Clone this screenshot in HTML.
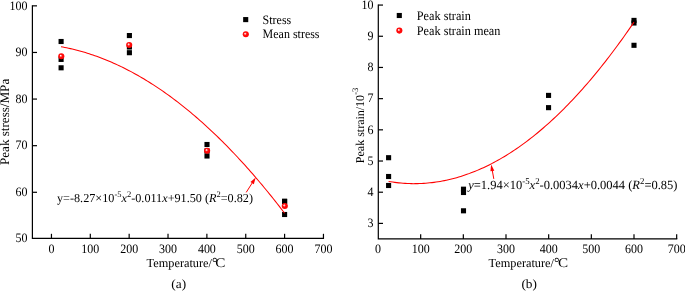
<!DOCTYPE html>
<html><head><meta charset="utf-8"><style>html,body{margin:0;padding:0;background:#fff;overflow:hidden}svg{display:block;will-change:transform;text-rendering:geometricPrecision}</style></head>
<body><svg width="685" height="291" viewBox="0 0 685 291">
<defs><radialGradient id="rb" cx="0.5" cy="0.5" r="0.55" fx="0.37" fy="0.36">
<stop offset="0" stop-color="#ffffff"/><stop offset="0.18" stop-color="#ffb8b8"/><stop offset="0.42" stop-color="#ff1010"/><stop offset="1" stop-color="#ff0000"/></radialGradient></defs>
<rect width="685" height="291" fill="#fff"/>
<path d="M32.4 5.85 V238.45 H323.45" fill="none" stroke="#000" stroke-width="1.2" stroke-linecap="square"/>
<line x1="32.4" y1="192.29" x2="37.0" y2="192.29" stroke="#000" stroke-width="1.2"/>
<line x1="32.4" y1="145.68" x2="37.0" y2="145.68" stroke="#000" stroke-width="1.2"/>
<line x1="32.4" y1="99.07" x2="37.0" y2="99.07" stroke="#000" stroke-width="1.2"/>
<line x1="32.4" y1="52.46" x2="37.0" y2="52.46" stroke="#000" stroke-width="1.2"/>
<line x1="32.4" y1="5.85" x2="37.0" y2="5.85" stroke="#000" stroke-width="1.2"/>
<text transform="translate(27.40 242.15) scale(0.9346 1)" text-anchor="end" font-family="Liberation Serif" font-size="12.840">50</text>
<text transform="translate(27.40 195.99) scale(0.9346 1)" text-anchor="end" font-family="Liberation Serif" font-size="12.840">60</text>
<text transform="translate(27.40 149.38) scale(0.9346 1)" text-anchor="end" font-family="Liberation Serif" font-size="12.840">70</text>
<text transform="translate(27.40 102.77) scale(0.9346 1)" text-anchor="end" font-family="Liberation Serif" font-size="12.840">80</text>
<text transform="translate(27.40 56.16) scale(0.9346 1)" text-anchor="end" font-family="Liberation Serif" font-size="12.840">90</text>
<text transform="translate(27.40 9.55) scale(0.9346 1)" text-anchor="end" font-family="Liberation Serif" font-size="12.840">100</text>
<line x1="51.45" y1="238.45" x2="51.45" y2="233.8" stroke="#000" stroke-width="1.2"/>
<text transform="translate(51.45 253.40) scale(0.9346 1)" text-anchor="middle" font-family="Liberation Serif" font-size="12.840">0</text>
<line x1="90.31" y1="238.45" x2="90.31" y2="233.8" stroke="#000" stroke-width="1.2"/>
<text transform="translate(90.31 253.40) scale(0.9346 1)" text-anchor="middle" font-family="Liberation Serif" font-size="12.840">100</text>
<line x1="129.16" y1="238.45" x2="129.16" y2="233.8" stroke="#000" stroke-width="1.2"/>
<text transform="translate(129.16 253.40) scale(0.9346 1)" text-anchor="middle" font-family="Liberation Serif" font-size="12.840">200</text>
<line x1="168.02" y1="238.45" x2="168.02" y2="233.8" stroke="#000" stroke-width="1.2"/>
<text transform="translate(168.02 253.40) scale(0.9346 1)" text-anchor="middle" font-family="Liberation Serif" font-size="12.840">300</text>
<line x1="206.88" y1="238.45" x2="206.88" y2="233.8" stroke="#000" stroke-width="1.2"/>
<text transform="translate(206.88 253.40) scale(0.9346 1)" text-anchor="middle" font-family="Liberation Serif" font-size="12.840">400</text>
<line x1="245.74" y1="238.45" x2="245.74" y2="233.8" stroke="#000" stroke-width="1.2"/>
<text transform="translate(245.74 253.40) scale(0.9346 1)" text-anchor="middle" font-family="Liberation Serif" font-size="12.840">500</text>
<line x1="284.59" y1="238.45" x2="284.59" y2="233.8" stroke="#000" stroke-width="1.2"/>
<text transform="translate(284.59 253.40) scale(0.9346 1)" text-anchor="middle" font-family="Liberation Serif" font-size="12.840">600</text>
<line x1="323.45" y1="238.45" x2="323.45" y2="233.8" stroke="#000" stroke-width="1.2"/>
<text transform="translate(323.45 253.40) scale(0.9346 1)" text-anchor="middle" font-family="Liberation Serif" font-size="12.840">700</text>
<text transform="translate(146.60 266.80) scale(1.0000 1)" font-family="Liberation Serif" font-size="12.300">Temperature/</text>
<text transform="translate(211.90 266.80) scale(1.0000 1)" font-family="Liberation Serif" font-size="13.800">°</text>
<text transform="translate(215.20 266.80) scale(1.1521 1)" font-family="Liberation Serif" font-size="13.194">C</text>
<text transform="translate(171.30 287.70) scale(1.0638 1)" font-family="Liberation Serif" font-size="12.502">(a)</text>
<text transform="translate(9.4 165.0) rotate(-90)" font-family="Liberation Serif" font-size="13.1">Peak stress/MPa</text>
<rect x="58.55" y="38.95" width="5.1" height="5.1" fill="#000"/>
<rect x="58.55" y="56.85" width="5.1" height="5.1" fill="#000"/>
<rect x="58.55" y="65.25" width="5.1" height="5.1" fill="#000"/>
<rect x="126.85" y="33.00" width="5.1" height="5.1" fill="#000"/>
<rect x="126.85" y="44.45" width="5.1" height="5.1" fill="#000"/>
<rect x="126.85" y="50.15" width="5.1" height="5.1" fill="#000"/>
<rect x="204.45" y="141.95" width="5.1" height="5.1" fill="#000"/>
<rect x="204.45" y="148.35" width="5.1" height="5.1" fill="#000"/>
<rect x="204.45" y="153.45" width="5.1" height="5.1" fill="#000"/>
<rect x="282.05" y="198.75" width="5.1" height="5.1" fill="#000"/>
<rect x="282.05" y="198.85" width="5.1" height="5.1" fill="#000"/>
<rect x="282.05" y="211.95" width="5.1" height="5.1" fill="#000"/>
<polyline points="61.00,46.72 62.88,47.07 64.76,47.43 66.64,47.81 68.52,48.21 70.39,48.63 72.27,49.06 74.15,49.52 76.03,49.99 77.91,50.48 79.79,50.98 81.67,51.51 83.55,52.05 85.43,52.61 87.31,53.19 89.18,53.78 91.06,54.39 92.94,55.03 94.82,55.68 96.70,56.34 98.58,57.03 100.46,57.73 102.34,58.45 104.22,59.19 106.10,59.95 107.97,60.72 109.85,61.51 111.73,62.32 113.61,63.15 115.49,64.00 117.37,64.86 119.25,65.74 121.13,66.64 123.01,67.56 124.89,68.49 126.76,69.44 128.64,70.41 130.52,71.40 132.40,72.41 134.28,73.43 136.16,74.48 138.04,75.54 139.92,76.61 141.80,77.71 143.68,78.82 145.55,79.95 147.43,81.10 149.31,82.27 151.19,83.45 153.07,84.66 154.95,85.88 156.83,87.12 158.71,88.37 160.59,89.65 162.47,90.94 164.34,92.25 166.22,93.58 168.10,94.92 169.98,96.28 171.86,97.67 173.74,99.07 175.62,100.48 177.50,101.92 179.38,103.37 181.26,104.84 183.13,106.33 185.01,107.83 186.89,109.36 188.77,110.90 190.65,112.46 192.53,114.04 194.41,115.63 196.29,117.25 198.17,118.88 200.05,120.53 201.92,122.19 203.80,123.88 205.68,125.58 207.56,127.30 209.44,129.04 211.32,130.80 213.20,132.57 215.08,134.36 216.96,136.17 218.84,138.00 220.71,139.85 222.59,141.71 224.47,143.59 226.35,145.49 228.23,147.41 230.11,149.34 231.99,151.29 233.87,153.26 235.75,155.25 237.63,157.26 239.50,159.28 241.38,161.32 243.26,163.38 245.14,165.46 247.02,167.56 248.90,169.67 250.78,171.80 252.66,173.95 254.54,176.12 256.42,178.30 258.29,180.50 260.17,182.72 262.05,184.96 263.93,187.22 265.81,189.49 267.69,191.78 269.57,194.09 271.45,196.42 273.33,198.77 275.21,201.13 277.08,203.51 278.96,205.91 280.84,208.33 282.72,210.76 284.60,213.21" fill="none" stroke="#f00" stroke-width="1.05"/>
<circle cx="61.30" cy="56.30" r="3.05" fill="url(#rb)"/>
<circle cx="129.20" cy="45.00" r="3.05" fill="url(#rb)"/>
<circle cx="207.10" cy="150.70" r="3.05" fill="url(#rb)"/>
<circle cx="284.80" cy="206.00" r="3.05" fill="url(#rb)"/>
<rect x="243.15" y="17.05" width="5.1" height="5.1" fill="#000"/>
<circle cx="245.80" cy="34.30" r="3.05" fill="url(#rb)"/>
<text transform="translate(262.60 23.50) scale(0.9346 1)" font-family="Liberation Serif" font-size="12.840">Stress</text>
<text transform="translate(262.60 38.00) scale(0.9346 1)" font-family="Liberation Serif" font-size="12.840">Mean stress</text>
<line x1="246.2" y1="192.4" x2="252.69" y2="182.22" stroke="#f00" stroke-width="1"/>
<path d="M255.7 177.5 L253.84 184.14 L250.47 181.99 Z" fill="#f00"/>
<text x="57.0" y="201.9" font-family="Liberation Serif" font-size="12.2">y=-8.27×10<tspan dy="-4.5" font-size="8.5">-5</tspan><tspan dy="4.5" font-style="italic">x</tspan><tspan dy="-4.5" font-size="8.5">2</tspan><tspan dy="4.5">-0.011</tspan><tspan font-style="italic">x</tspan>+91.50 (<tspan font-style="italic">R</tspan><tspan dy="-4.5" font-size="8.5">2</tspan><tspan dy="4.5">=0.82)</tspan></text>
<path d="M378.3 5.07 V238.9 H676.67" fill="none" stroke="#000" stroke-width="1.2" stroke-linecap="square"/>
<line x1="378.3" y1="223.40" x2="383.0" y2="223.40" stroke="#000" stroke-width="1.2"/>
<text transform="translate(373.40 227.10) scale(0.9346 1)" text-anchor="end" font-family="Liberation Serif" font-size="12.840">3</text>
<line x1="378.3" y1="192.21" x2="383.0" y2="192.21" stroke="#000" stroke-width="1.2"/>
<text transform="translate(373.40 195.91) scale(0.9346 1)" text-anchor="end" font-family="Liberation Serif" font-size="12.840">4</text>
<line x1="378.3" y1="161.02" x2="383.0" y2="161.02" stroke="#000" stroke-width="1.2"/>
<text transform="translate(373.40 164.72) scale(0.9346 1)" text-anchor="end" font-family="Liberation Serif" font-size="12.840">5</text>
<line x1="378.3" y1="129.83" x2="383.0" y2="129.83" stroke="#000" stroke-width="1.2"/>
<text transform="translate(373.40 133.53) scale(0.9346 1)" text-anchor="end" font-family="Liberation Serif" font-size="12.840">6</text>
<line x1="378.3" y1="98.64" x2="383.0" y2="98.64" stroke="#000" stroke-width="1.2"/>
<text transform="translate(373.40 102.34) scale(0.9346 1)" text-anchor="end" font-family="Liberation Serif" font-size="12.840">7</text>
<line x1="378.3" y1="67.45" x2="383.0" y2="67.45" stroke="#000" stroke-width="1.2"/>
<text transform="translate(373.40 71.15) scale(0.9346 1)" text-anchor="end" font-family="Liberation Serif" font-size="12.840">8</text>
<line x1="378.3" y1="36.26" x2="383.0" y2="36.26" stroke="#000" stroke-width="1.2"/>
<text transform="translate(373.40 39.96) scale(0.9346 1)" text-anchor="end" font-family="Liberation Serif" font-size="12.840">9</text>
<line x1="378.3" y1="5.07" x2="383.0" y2="5.07" stroke="#000" stroke-width="1.2"/>
<text transform="translate(373.40 8.77) scale(0.9346 1)" text-anchor="end" font-family="Liberation Serif" font-size="12.840">10</text>
<text transform="translate(378.00 253.40) scale(0.9346 1)" text-anchor="middle" font-family="Liberation Serif" font-size="12.840">0</text>
<line x1="420.67" y1="238.9" x2="420.67" y2="234.3" stroke="#000" stroke-width="1.2"/>
<text transform="translate(420.67 253.40) scale(0.9346 1)" text-anchor="middle" font-family="Liberation Serif" font-size="12.840">100</text>
<line x1="463.33" y1="238.9" x2="463.33" y2="234.3" stroke="#000" stroke-width="1.2"/>
<text transform="translate(463.33 253.40) scale(0.9346 1)" text-anchor="middle" font-family="Liberation Serif" font-size="12.840">200</text>
<line x1="506.00" y1="238.9" x2="506.00" y2="234.3" stroke="#000" stroke-width="1.2"/>
<text transform="translate(506.00 253.40) scale(0.9346 1)" text-anchor="middle" font-family="Liberation Serif" font-size="12.840">300</text>
<line x1="548.67" y1="238.9" x2="548.67" y2="234.3" stroke="#000" stroke-width="1.2"/>
<text transform="translate(548.67 253.40) scale(0.9346 1)" text-anchor="middle" font-family="Liberation Serif" font-size="12.840">400</text>
<line x1="591.34" y1="238.9" x2="591.34" y2="234.3" stroke="#000" stroke-width="1.2"/>
<text transform="translate(591.34 253.40) scale(0.9346 1)" text-anchor="middle" font-family="Liberation Serif" font-size="12.840">500</text>
<line x1="634.00" y1="238.9" x2="634.00" y2="234.3" stroke="#000" stroke-width="1.2"/>
<text transform="translate(634.00 253.40) scale(0.9346 1)" text-anchor="middle" font-family="Liberation Serif" font-size="12.840">600</text>
<line x1="676.67" y1="238.9" x2="676.67" y2="234.3" stroke="#000" stroke-width="1.2"/>
<text transform="translate(676.67 253.40) scale(0.9346 1)" text-anchor="middle" font-family="Liberation Serif" font-size="12.840">700</text>
<text transform="translate(488.60 266.80) scale(1.0000 1)" font-family="Liberation Serif" font-size="12.300">Temperature/</text>
<text transform="translate(553.90 266.80) scale(1.0000 1)" font-family="Liberation Serif" font-size="13.800">°</text>
<text transform="translate(558.10 266.80) scale(1.1521 1)" font-family="Liberation Serif" font-size="13.194">C</text>
<text transform="translate(521.40 287.70) scale(1.0638 1)" font-family="Liberation Serif" font-size="12.502">(b)</text>
<text transform="translate(363.6 163.2) rotate(-90)" font-family="Liberation Serif" font-size="12">Peak strain/10<tspan dy="-5.3" font-size="8.5">-3</tspan></text>
<rect x="386.05" y="155.15" width="5.1" height="5.1" fill="#000"/>
<rect x="386.05" y="173.95" width="5.1" height="5.1" fill="#000"/>
<rect x="386.05" y="182.95" width="5.1" height="5.1" fill="#000"/>
<rect x="460.95" y="186.65" width="5.1" height="5.1" fill="#000"/>
<rect x="460.95" y="189.95" width="5.1" height="5.1" fill="#000"/>
<rect x="460.95" y="208.25" width="5.1" height="5.1" fill="#000"/>
<rect x="546.00" y="92.85" width="5.1" height="5.1" fill="#000"/>
<rect x="546.00" y="105.10" width="5.1" height="5.1" fill="#000"/>
<rect x="631.45" y="17.85" width="5.1" height="5.1" fill="#000"/>
<rect x="631.45" y="20.45" width="5.1" height="5.1" fill="#000"/>
<rect x="631.45" y="42.75" width="5.1" height="5.1" fill="#000"/>
<polyline points="388.60,181.44 390.66,181.78 392.72,182.09 394.79,182.37 396.85,182.63 398.91,182.86 400.97,183.05 403.04,183.22 405.10,183.37 407.16,183.48 409.22,183.56 411.28,183.62 413.35,183.65 415.41,183.64 417.47,183.62 419.53,183.56 421.59,183.47 423.66,183.36 425.72,183.21 427.78,183.04 429.84,182.84 431.91,182.61 433.97,182.36 436.03,182.07 438.09,181.76 440.15,181.41 442.22,181.04 444.28,180.64 446.34,180.21 448.40,179.76 450.47,179.27 452.53,178.76 454.59,178.22 456.65,177.65 458.71,177.05 460.78,176.42 462.84,175.77 464.90,175.08 466.96,174.37 469.03,173.63 471.09,172.86 473.15,172.06 475.21,171.24 477.27,170.38 479.34,169.50 481.40,168.59 483.46,167.65 485.52,166.68 487.58,165.68 489.65,164.66 491.71,163.60 493.77,162.52 495.83,161.41 497.90,160.27 499.96,159.10 502.02,157.91 504.08,156.68 506.14,155.43 508.21,154.15 510.27,152.84 512.33,151.50 514.39,150.13 516.46,148.74 518.52,147.31 520.58,145.86 522.64,144.38 524.70,142.87 526.77,141.33 528.83,139.77 530.89,138.17 532.95,136.55 535.02,134.90 537.08,133.22 539.14,131.51 541.20,129.77 543.26,128.01 545.33,126.21 547.39,124.39 549.45,122.54 551.51,120.66 553.57,118.75 555.64,116.82 557.70,114.85 559.76,112.86 561.82,110.84 563.89,108.79 565.95,106.71 568.01,104.60 570.07,102.47 572.13,100.30 574.20,98.11 576.26,95.89 578.32,93.64 580.38,91.36 582.45,89.06 584.51,86.72 586.57,84.36 588.63,81.97 590.69,79.55 592.76,77.10 594.82,74.62 596.88,72.12 598.94,69.58 601.01,67.02 603.07,64.43 605.13,61.81 607.19,59.16 609.25,56.49 611.32,53.78 613.38,51.05 615.44,48.29 617.50,45.50 619.56,42.68 621.63,39.84 623.69,36.96 625.75,34.06 627.81,31.12 629.88,28.16 631.94,25.17 634.00,22.16" fill="none" stroke="#f00" stroke-width="1.05"/>
<rect x="396.75" y="12.95" width="5.1" height="5.1" fill="#000"/>
<circle cx="399.35" cy="30.60" r="3.05" fill="url(#rb)"/>
<text transform="translate(416.80 20.00) scale(0.9346 1)" font-family="Liberation Serif" font-size="13.107">Peak strain</text>
<text transform="translate(416.80 34.80) scale(0.9346 1)" font-family="Liberation Serif" font-size="13.107">Peak strain mean</text>
<line x1="493.8" y1="178.9" x2="492.20" y2="170.01" stroke="#f00" stroke-width="1"/>
<path d="M491.2 164.5 L494.34 170.64 L490.40 171.35 Z" fill="#f00"/>
<text x="468.2" y="188.9" font-family="Liberation Serif" font-size="12.5"><tspan font-style="italic">y</tspan>=1.94×10<tspan dy="-4.7" font-size="8.8">-5</tspan><tspan dy="4.7" font-style="italic">x</tspan><tspan dy="-4.7" font-size="8.8">2</tspan><tspan dy="4.7">-0.0034</tspan><tspan font-style="italic">x</tspan>+0.0044 (<tspan font-style="italic">R</tspan><tspan dy="-4.7" font-size="8.8">2</tspan><tspan dy="4.7">=0.85)</tspan></text>
</svg></body></html>
